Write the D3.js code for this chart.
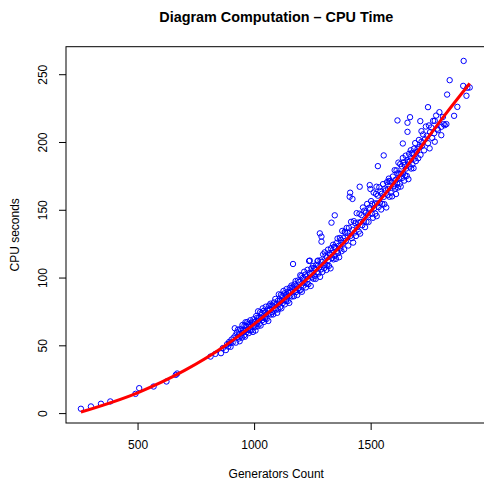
<!DOCTYPE html>
<html>
<head>
<meta charset="utf-8">
<script src="https://cdn.jsdelivr.net/npm/d3@7"></script>
<style>
  html, body { margin: 0; padding: 0; background: #fff; }
  svg { display: block; }
  text { font-family: "Liberation Sans", Arial, Helvetica, sans-serif; }
</style>
</head>
<body>
<svg id="chart" width="484" height="482"></svg>
<script>
// ---------------- DATA ----------------
const titleText = "Diagram Computation \u2013 CPU Time";
const xLabel = "Generators Count";
const yLabel = "CPU seconds";
const xTicks = [500, 1000, 1500];
const yTicks = [0, 50, 100, 150, 200, 250];

// observed points: generators count / CPU seconds
const genCount = [
  257,300,343,383,491,507,569,624,664,670,
  813,834,858,866,879,884,889,893,896,899,903,908,912,917,
  920,922,926,929,931,934,936,938,941,943,945,948,950,952,954,957,959,961,963,964,966,968,971,973,975,977,979,982,984,986,988,991,993,995,997,999,
  1002,1004,1006,1009,1011,1013,1015,1017,1019,1021,1024,1026,1028,1030,1032,1035,1037,1039,1041,1043,1046,1048,1050,1052,1054,1057,1059,1061,1064,1066,1068,1070,1073,1075,1077,1080,1082,1085,1088,1091,1094,1097,1099,
  1102,1104,1106,1108,1110,1112,1115,1117,1119,1121,1123,1126,1128,1130,1132,1135,1137,1139,1142,1144,1146,1148,1151,1153,1155,1158,1160,1162,1164,1167,1169,1171,1173,1176,1178,1180,1183,1185,1188,1190,1193,1195,1198,
  1201,1203,1205,1208,1210,1212,1215,1217,1219,1222,1224,1226,1229,1231,1233,1236,1238,1239,1241,1243,1246,1248,1250,1253,1255,1257,1260,1262,1264,1267,1269,1272,1274,1276,1279,1282,1283,1285,1287,1289,1289,1291,1293,1296,1298,
  1301,1303,1305,1307,1310,1312,1314,1317,1319,1321,1324,1326,1328,1330,1332,1334,1336,1339,1341,1343,1346,1346,1348,1351,1353,1355,1358,1360,1363,1365,1368,1370,1373,1375,1378,1380,1383,1386,1389,1391,1394,1397,
  1401,1404,1407,1410,1412,1413,1416,1419,1422,1422,1425,1428,1431,1434,1437,1440,1443,1446,1449,1452,1453,1455,1458,1461,1464,1467,1470,1473,1476,1479,1482,1485,1488,1491,1494,1496,1497,1499,
  1502,1505,1507,1510,1513,1515,1518,1520,1523,1525,1526,1528,1531,1531,1534,1537,1540,1542,1545,1548,1550,1553,1556,1556,1559,1562,1565,1567,1570,1573,1575,1577,1578,1581,1583,1586,1589,1592,1595,1598,
  1601,1603,1605,1607,1609,1611,1613,1615,1615,1617,1619,1621,1623,1625,1627,1629,1631,1633,1635,1638,1638,1640,1642,1644,1646,1648,1650,1652,1655,1658,1658,1658,1660,1662,1665,1667,1669,1669,1672,1674,1676,1679,1681,1684,1686,1689,1691,1694,1697,
  1701,1704,1707,1710,1713,1714,1718,1718,1721,1725,1729,1733,1737,1741,1746,1746,1750,1753,1755,1760,1764,1768,1772,1775,1775,1781,1786,1789,1795,1803,1803,1810,1813,1818,1825,
  1828,1839,1858,1872,1897,1899,1911,1915,1925
];
const cpuSeconds = [
  3.2,4.9,6.9,8.6,14.2,18.4,19.6,23.3,28.2,29.2,
  41.7,43.7,44.2,48.0,46.5,50.8,49.1,52.5,51.5,48.9,54.2,52.0,55.6,62.6,
  57.3,52.0,59.5,55.9,61.6,55.0,58.3,53.0,61.9,57.1,60.9,55.7,65.0,59.3,61.0,57.4,64.7,56.4,67.0,61.3,64.1,59.8,67.2,61.5,65.8,59.0,64.8,61.2,68.5,63.8,61.0,66.9,66.2,59.9,69.2,64.5,
  63.4,67.3,60.9,71.6,65.8,70.3,64.0,75.1,68.2,70.2,65.9,74.5,64.6,70.3,73.6,68.6,77.3,70.4,75.4,67.3,74.3,69.8,78.5,72.8,69.5,76.5,75.6,68.0,79.3,73.5,76.2,80.7,72.7,79.6,74.5,79.1,72.8,81.6,77.2,84.2,76.3,80.3,74.0,
  82.8,76.5,87.6,80.7,82.8,78.3,87.2,77.3,83.0,86.3,81.2,90.1,83.2,88.3,80.2,87.3,82.8,91.5,85.9,82.6,89.5,88.6,81.3,92.4,86.7,89.6,94.1,86.0,92.9,110.0,92.5,86.2,94.9,90.5,97.4,89.3,93.4,87.1,97.8,92.1,96.7,90.4,101.7,
  91.0,101.1,89.5,96.2,100.0,94.0,104.3,96.2,102.1,92.7,100.7,95.4,105.7,99.0,95.1,112.2,103.5,112.5,102.6,93.8,106.8,100.1,103.2,108.6,99.1,107.1,101.2,106.4,99.0,109.3,104.0,112.1,112.5,102.9,107.6,132.6,100.5,112.7,106.0,130.2,126.5,111.5,104.1,117.1,109.0,
  107.0,118.6,109.4,116.2,105.6,114.8,108.8,120.6,113.0,108.6,118.0,116.8,106.8,121.6,140.5,114.4,118.0,124.2,113.4,122.6,145.9,116.0,122.0,113.8,125.4,119.4,128.8,118.0,123.4,115.0,129.2,121.6,127.8,119.4,134.4,125.2,129.0,120.8,133.8,133.0,127.2,136.6,
  132.9,123.6,136.7,159.6,162.6,130.7,141.1,129.1,158.0,135.1,125.8,141.6,133.2,140.1,130.7,147.5,137.3,140.5,133.9,147.1,167.0,132.4,141.0,146.1,138.6,151.7,141.5,149.3,137.2,147.7,141.1,154.3,145.8,141.0,151.5,168.2,150.2,165.3,
  156.4,147.0,154.4,144.1,162.7,151.1,154.7,147.1,161.7,167.0,145.3,154.7,182.2,160.4,152.0,166.6,155.2,163.6,150.2,161.8,154.3,168.9,190.1,159.5,154.1,165.7,164.3,151.7,170.4,161.0,165.4,171.2,173.0,159.6,171.0,162.6,170.2,159.9,174.5,167.1,
  167.7,179.2,165.6,172.1,161.6,179.0,169.5,215.9,176.9,166.4,184.8,173.3,176.7,169.2,183.7,167.1,176.6,182.0,173.5,198.9,188.2,176.6,185.1,171.5,183.0,175.4,189.9,180.4,175.0,214.2,207.5,186.7,185.2,172.6,191.3,181.8,218.3,186.2,193.9,180.4,191.8,183.5,191.0,180.7,195.1,187.8,199.2,185.9,192.6,
  194.8,188.0,201.5,196.2,215.4,190.5,200.2,208.0,197.3,205.6,193.8,202.0,211.4,204.6,225.7,199.1,212.2,195.3,207.3,210.7,203.0,215.6,206.4,215.6,200.2,219.5,209.8,208.7,222.0,211.2,205.0,218.5,213.2,212.4,213.2,
  235.0,245.6,219.3,225.9,241.4,259.8,234.1,240.0,240.2
];

// fitted curve (red line)
const fitX = [257, 500, 700, 874, 1000, 1100, 1200, 1303, 1400, 1517, 1646, 1732, 1818, 1925];
const fitY = [0.8, 15.0, 31.3, 49.5, 65.6, 79.6, 94.6, 111.5, 128.5, 152.2, 179.8, 200.0, 219.8, 243.2];

// ---------------- CHART ----------------
(function () {
  const svg = d3.select("#chart");
  const mLeft = 66, mRight = 486.5, mTop = 46.7, mBottom = 423;

  const x = d3.scaleLinear().domain([193, 1997]).range([mLeft, mRight]);
  const y = d3.scaleLinear().domain([-7.3, 270.3]).range([mBottom, mTop]);

  const n = Math.min(genCount.length, cpuSeconds.length);

  // points
  svg.append("g").selectAll("circle")
    .data(d3.range(n))
    .join("circle")
    .attr("cx", i => x(genCount[i]))
    .attr("cy", i => y(cpuSeconds[i]))
    .attr("r", 2.7)
    .attr("fill", "none")
    .attr("stroke", "#0000ff")
    .attr("stroke-width", 1);

  // fitted line
  const line = d3.line()
    .x((d, i) => x(fitX[i]))
    .y((d, i) => y(fitY[i]))
    .curve(d3.curveMonotoneX);
  svg.append("path")
    .datum(fitX)
    .attr("d", line)
    .attr("fill", "none")
    .attr("stroke", "#ff0000")
    .attr("stroke-width", 3);

  // box
  svg.append("rect")
    .attr("x", mLeft).attr("y", mTop)
    .attr("width", mRight - mLeft).attr("height", mBottom - mTop)
    .attr("fill", "none").attr("stroke", "#000").attr("stroke-width", 1);

  // x axis
  const gx = svg.append("g")
    .attr("transform", `translate(0,${mBottom})`)
    .call(d3.axisBottom(x).tickValues(xTicks).tickFormat(d3.format("d")).tickSize(7).tickSizeOuter(0).tickPadding(10));
  gx.select(".domain").remove();
  gx.selectAll("text").attr("font-size", 12).attr("fill", "#000")
    .attr("font-family", "Liberation Sans, Arial, sans-serif");
  gx.selectAll("line").attr("stroke", "#000");

  // y axis
  const gy = svg.append("g")
    .attr("transform", `translate(${mLeft},0)`)
    .call(d3.axisLeft(y).tickValues(yTicks).tickFormat(d3.format("d")).tickSize(7).tickSizeOuter(0));
  gy.select(".domain").remove();
  gy.selectAll("line").attr("stroke", "#000");
  gy.selectAll("text")
    .attr("x", null).attr("dy", null)
    .attr("transform", "translate(-19.3,0) rotate(-90)")
    .attr("text-anchor", "middle")
    .attr("font-size", 12).attr("fill", "#000")
    .attr("font-family", "Liberation Sans, Arial, sans-serif");

  // title
  svg.append("text")
    .attr("x", (mLeft + mRight) / 2).attr("y", 22)
    .attr("text-anchor", "middle")
    .attr("font-size", 14.4).attr("font-weight", "bold")
    .text(titleText);

  // axis titles
  svg.append("text")
    .attr("x", (mLeft + mRight) / 2).attr("y", 478)
    .attr("text-anchor", "middle")
    .attr("font-size", 12)
    .text(xLabel);

  svg.append("text")
    .attr("transform", `translate(18.5,${(mTop + mBottom) / 2}) rotate(-90)`)
    .attr("text-anchor", "middle")
    .attr("font-size", 12)
    .text(yLabel);
})();
</script>
</body>
</html>
